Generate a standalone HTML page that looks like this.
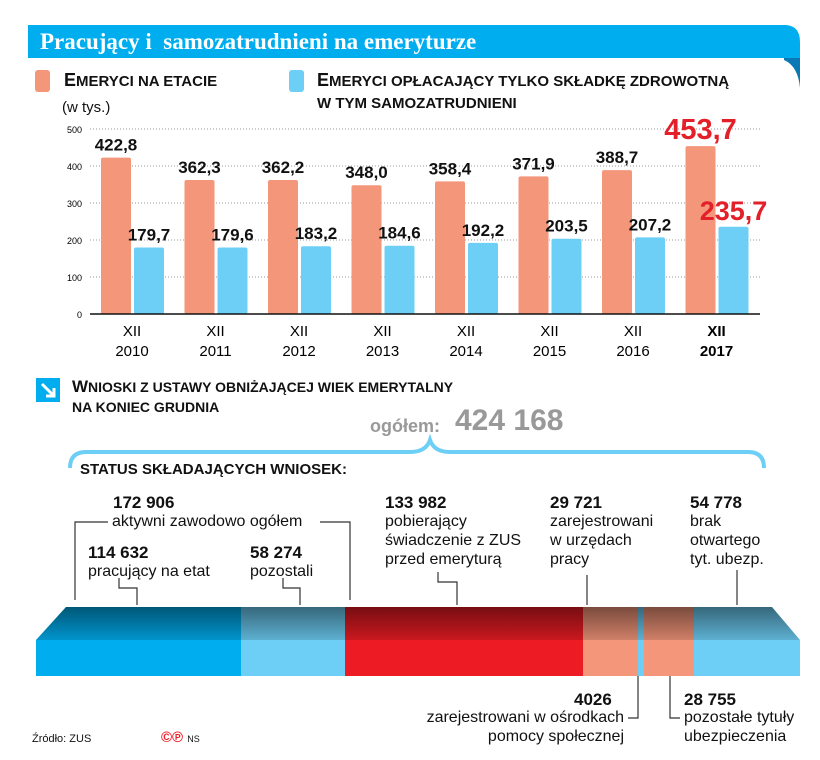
<!DOCTYPE html>
<html><head><meta charset="utf-8"><style>
body{margin:0;background:#fff;}
#wrap{position:relative;width:820px;height:760px;overflow:hidden;font-family:"Liberation Sans",sans-serif;color:#111;}
.t{position:absolute;white-space:nowrap;}
.b{font-weight:bold;}
.n{font-size:17px;font-weight:bold;line-height:18px;}
.d{font-size:16px;line-height:19px;}
</style></head><body>
<div id="wrap">
<svg width="820" height="760" style="position:absolute;left:0;top:0">
 <path d="M784 56 L800 56 L800 88 Q798 66 784 60 Z" fill="#0a78b4"/>
 <path d="M28 25 L786 25 Q800 26 800 42 L800 58 L28 58 Z" fill="#00aeef"/>
 <rect x="35" y="70" width="15" height="22" rx="3" fill="#f4967a"/>
 <rect x="289" y="70" width="15" height="22" rx="3" fill="#6dcff6"/>
 <g id="chart"></g>
 <g><rect x="36" y="378" width="24" height="24" fill="#00aeef"/><path d="M42 384 L54 396 M54 388 L54 396 L46 396" stroke="#fff" stroke-width="3" fill="none"/></g>
 <path d="M70 468 Q70 452 86 452 L410 452 Q426 452 430 440 Q434 452 450 452 L748 452 Q764 452 764 468" stroke="#6dcff6" stroke-width="4" fill="none"/>
 <g stroke="#333" stroke-width="1.2" fill="none">
  <path d="M75 600 L75 522 L108 522"/><path d="M320 522 L350 522 L350 600"/>
  <path d="M119 578 L119 588 L137 588 L137 605"/><path d="M283 578 L283 588 L300 588 L300 605"/>
  <path d="M438 572 L438 582 L457 582 L457 605"/><path d="M587 575 L587 605"/><path d="M737 570 L737 605"/>
  <path d="M638 676 L638 718 L628 718"/><path d="M670 676 L670 718 L680 718"/>
 </g>
 <defs>
  <linearGradient id="sh" x1="0" y1="0" x2="0" y2="1"><stop offset="0" stop-color="#000" stop-opacity="0.5"/><stop offset="1" stop-color="#000" stop-opacity="0.15"/></linearGradient>
  <clipPath id="topc"><path d="M66 607 L772 607 L800 640 L36 640 Z"/></clipPath>
 </defs>
 <g>
  <g clip-path="url(#topc)">
   <rect x="30" y="607" width="215" height="33" fill="#00aeef"/><rect x="241" y="607" width="108" height="33" fill="#6dcff6"/>
   <rect x="345" y="607" width="238" height="33" fill="#ed1c24"/><rect x="583" y="607" width="55" height="33" fill="#f4967a"/>
   <rect x="638" y="607" width="6" height="33" fill="#6dcff6"/><rect x="644" y="607" width="50" height="33" fill="#f4967a"/>
   <rect x="694" y="607" width="110" height="33" fill="#6dcff6"/>
   <rect x="30" y="607" width="780" height="33" fill="url(#sh)"/>
  </g>
  <rect x="36" y="640" width="205" height="36" fill="#00aeef"/><rect x="241" y="640" width="104" height="36" fill="#6dcff6"/>
  <rect x="345" y="640" width="238" height="36" fill="#ed1c24"/><rect x="583" y="640" width="55" height="36" fill="#f4967a"/>
  <rect x="638" y="640" width="6" height="36" fill="#6dcff6"/><rect x="644" y="640" width="50" height="36" fill="#f4967a"/>
  <rect x="694" y="640" width="106" height="36" fill="#6dcff6"/>
 </g>
</svg>
<div class="t" style="left:40px;top:29px;font:bold 23px 'Liberation Serif',serif;color:#fff">Pracujący i&nbsp; samozatrudnieni na emeryturze</div>
<div class="t b" style="left:64px;top:70px;font-size:18px">E<span style="font-size:15px">MERYCI NA ETACIE</span></div>
<div class="t b" style="left:317px;top:70px;font-size:18px;line-height:21px">E<span style="font-size:15px">MERYCI OPŁACAJĄCY TYLKO SKŁADKĘ ZDROWOTNĄ<br>W TYM SAMOZATRUDNIENI</span></div>
<div class="t" style="left:62px;top:99px;font-size:15px">(w tys.)</div>
<div class="t b" style="left:72px;top:377px;font-size:17px;line-height:20px">W<span style="font-size:14px">NIOSKI Z USTAWY OBNIŻAJĄCEJ WIEK EMERYTALNY<br>NA KONIEC GRUDNIA</span></div>
<div class="t b" style="left:370px;top:416px;font-size:18px;color:#999">ogółem:</div>
<div class="t b" style="left:455px;top:404px;font-size:30px;color:#999">424 168</div>
<div class="t b" style="left:80px;top:461px;font-size:15px">STATUS SKŁADAJĄCYCH WNIOSEK:</div>
<div class="t n" style="left:113px;top:494px">172 906</div>
<div class="t d" style="left:112px;top:512px">aktywni zawodowo ogółem</div>
<div class="t n" style="left:88px;top:544px">114 632</div>
<div class="t d" style="left:88px;top:562px">pracujący na etat</div>
<div class="t n" style="left:250px;top:544px">58 274</div>
<div class="t d" style="left:250px;top:562px">pozostali</div>
<div class="t n" style="left:385px;top:494px">133 982</div>
<div class="t d" style="left:385px;top:512px">pobierający<br>świadczenie z ZUS<br>przed emeryturą</div>
<div class="t n" style="left:550px;top:494px">29 721</div>
<div class="t d" style="left:550px;top:512px">zarejestrowani<br>w urzędach<br>pracy</div>
<div class="t n" style="left:690px;top:494px">54 778</div>
<div class="t d" style="left:690px;top:512px">brak<br>otwartego<br>tyt. ubezp.</div>
<div class="t n" style="left:574px;top:691px">4026</div>
<div class="t d" style="right:196px;top:708px;text-align:right">zarejestrowani w ośrodkach<br>pomocy społecznej</div>
<div class="t n" style="left:684px;top:691px">28 755</div>
<div class="t d" style="left:684px;top:708px">pozostałe tytuły<br>ubezpieczenia</div>
<div class="t" style="left:32px;top:733px;font-size:11px">Źródło: ZUS</div>
<div class="t b" style="left:161px;top:729px;font-size:15px;color:#ed1c24">©℗ <span style="font-size:9px;color:#111;font-weight:normal">NS</span></div>
</div>
<script>
const years=["2010","2011","2012","2013","2014","2015","2016","2017"];
const etat=[422.8,362.3,362.2,348.0,358.4,371.9,388.7,453.7];
const zdrow=[179.7,179.6,183.2,184.6,192.2,203.5,207.2,235.7];
const ticks=[0,100,200,300,400,500];
const NS="http://www.w3.org/2000/svg";
const g=document.getElementById('chart');
const y=v=>314-v*0.37;
const gx=i=>101+i*83.5;
function el(t,a,txt){const e=document.createElementNS(NS,t);for(const k in a)e.setAttribute(k,a[k]);if(txt!==undefined)e.textContent=txt;g.appendChild(e);return e;}
ticks.forEach(t=>{
 if(t>0){const l=el('line',{x1:90,x2:760,y1:y(t),y2:y(t),stroke:'#999','stroke-dasharray':'1 2'});
 
 }
 const tx=el('text',{x:82,y:y(t)+4,'text-anchor':'end','font-size':9,'font-family':'Liberation Sans,sans-serif'},t);
 
 
});
years.forEach((yr,i)=>{
 const x=gx(i),last=i===years.length-1;
 const r1=el('rect',{x:x,y:y(etat[i]),width:30,height:314-y(etat[i]),rx:2,fill:'#f4967a'});
 
 
 const r2=el('rect',{x:x+33,y:y(zdrow[i]),width:30,height:314-y(zdrow[i]),rx:2,fill:'#6dcff6'});
 
 
 const col=last?'#e3202a':'#111';
 const l1=el('text',{x:x+15,y:y(etat[i])-7,'text-anchor':'middle','font-size':last?29:17,'font-weight':'bold',fill:col,'font-family':'Liberation Sans,sans-serif'},etat[i].toFixed(1).replace('.',','));
 
 
 const l2=el('text',{x:x+48,y:y(zdrow[i])-7,'text-anchor':'middle','font-size':last?27:17,'font-weight':'bold',fill:col,'font-family':'Liberation Sans,sans-serif'},zdrow[i].toFixed(1).replace('.',','));
 
 
 const a=el('text',{x:x+31,y:336,'text-anchor':'middle','font-size':15,'font-weight':last?'bold':'normal','font-family':'Liberation Sans,sans-serif'},'XII');
 
 
 const b=el('text',{x:x+31,y:356,'text-anchor':'middle','font-size':15,'font-weight':last?'bold':'normal','font-family':'Liberation Sans,sans-serif'},yr);
 
 
});
const ax=el('line',{x1:90,x2:760,y1:314,y2:314,stroke:'#111','stroke-width':1.5});


</script>
</body></html>
